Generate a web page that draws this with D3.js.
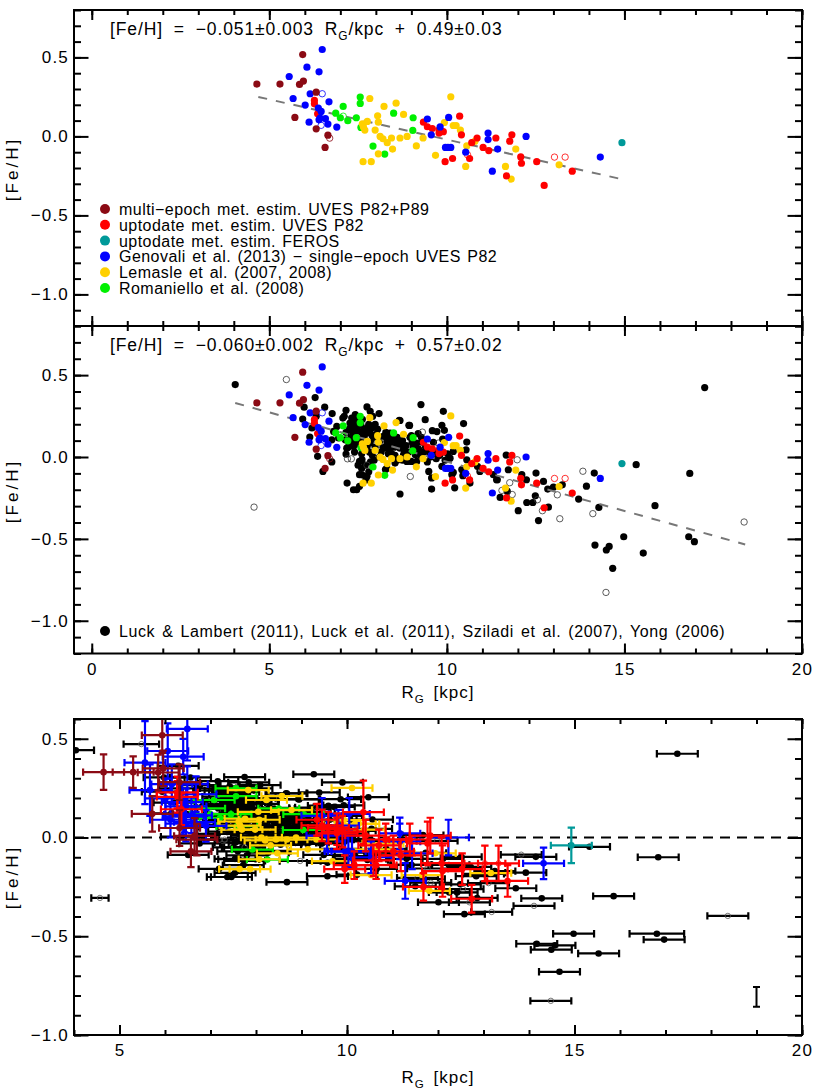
<!DOCTYPE html>
<html>
<head>
<meta charset="utf-8">
<script src="https://cdn.jsdelivr.net/npm/d3@7"></script>
<style>
html, body { margin: 0; padding: 0; background: #fff; }
text { font-family: "Liberation Sans", sans-serif; fill: #000; }
</style>
</head>
<body>
<div id="svg_div"></div>
<script>
// Points are [RG, FeH], optional third value is the
// y error (coloured samples) or the x error (black samples)
var darkRed = [[5.94,0.518,0.09],[4.65,0.331,0.09],[5.30,0.331,0.08],[5.85,0.329,0.09],[5.96,0.350,0.09],[6.32,0.280,0.09],
    [5.72,0.120,0.09],[6.32,0.048,0.09],[6.65,0.008,0.09],[6.57,-0.070,0.08]];
var darkRedOpen = [[6.70,-0.011,0.08]];

var red = [[6.27,0.228,0.08],[6.27,0.206,0.08],[6.36,0.143,0.08],[10.36,0.128,0.16],[9.34,0.09,0.08],[9.45,0.061,0.08],
    [9.59,0.05,0.08],[9.78,0.042,0.08],[9.78,0.021,0.08],[9.90,0.03,0.08],[10.41,0.01,0.08],[10.85,-0.01,0.08],
    [10.70,-0.04,0.08],[11.02,-0.07,0.08],[11.18,-0.09,0.08],[11.38,-0.01,0.08],[11.83,0.01,0.09],[11.77,-0.03,0.11],
    [12.08,-0.13,0.13],[12.10,-0.17,0.13],[12.53,-0.16,0.08],[13.53,-0.22,0.08],[12.74,-0.31,0.07],[11.68,-0.25,0.07],
    [10.64,-0.14,0.07],[10.16,-0.14,0.07],[9.95,-0.16,0.07]];
var redOpen = [[13.03,-0.131,0.09],[13.33,-0.131,0.09],[10.58,-0.116,0.08]];

var teal = [[14.93,-0.04,0.09]];

var blue = [[6.49,0.55,0.16],[6.06,0.438,0.14],[6.40,0.409,0.09],[5.56,0.379,0.21],[5.67,0.24,0.13],[6.15,0.27,0.1],
    [6.01,0.198,0.1],[6.68,0.219,0.09],[6.38,0.179,0.09],[6.46,0.158,0.09],[6.43,0.116,0.09],[6.58,0.112,0.09],
    [6.40,0.105,0.09],[6.12,0.09,0.09],[6.65,0.078,0.08],[6.90,0.059,0.08],[9.45,0.11,0.09],[9.56,0.01,0.08],
    [10.05,0.12,0.08],[9.81,0.06,0.08],[11.16,0.021,0.08],[11.16,-0.02,0.09],[11.43,-0.08,0.08],[9.96,-0.07,0.08],
    [10.03,-0.07,0.08],[10.11,-0.07,0.08],[10.53,-0.10,0.08],[11.28,-0.22,0.09],[12.23,0.0,0.09],[14.32,-0.131,0.08]];
var blueOpen = [[6.49,0.27,0.09],[6.46,0.07,0.09]];

var yellow = [[7.83,0.24],[8.23,0.19],[8.57,0.21],[8.78,0.139],[8.05,0.13],[8.07,0.09],[7.76,0.095],[7.62,0.08],[7.65,0.06],
    [7.69,0.04],[7.98,0.04],[8.12,0],[8.20,-0.015],[8.32,-0.04],[8.44,-0.01],[8.68,-0.01],[8.88,0],[9.33,-0.01],[9.14,-0.06],
    [8.47,-0.08],[8.07,-0.11],[7.64,-0.16],[7.87,-0.16],[9.68,-0.12],[10.11,0.251],[9.93,0.088],[10.18,0.069],[10.26,0.069],
    [10.38,0.04],[10.79,-0.03],[10.56,-0.06],[10.53,-0.19],[11.65,-0.19],[11.94,-0.08],[11.81,-0.27],[13.16,-0.18]];

var green = [[7.56,0.249],[7.56,0.209],[7.08,0.19],[6.87,0.147],[7.0,0.118],[7.21,0.099],[7.45,0.118],[8.50,0.147],[9.05,0.118],
    [9.04,0.038],[7.92,-0.061],[8.25,-0.112],[7.58,0.057]];
var greenOpen = [[7.08,0.128]];

var black = [[4.04,0.442,0.4],[6.29,0.363],[5.98,0.304],[6.56,0.304],[6.77,0.265],[6.32,0.249],[5.94,0.232],[6.36,0.004],[6.51,-0.088],
    [6.76,-0.03],[6.14,0.122],[6.20,0.177],[6.9,0.187],[6.81,0.156],[6.95,0.116],[6.76,0.105],[7.16,0.285],[7.11,0.249],[7.07,0.238],
    [7.42,0.259],[7.32,0.238],[7.27,0.207],[7.75,0.306],[7.84,0.279],[7.91,0.249],[8.09,0.265],[8.66,0.224],[8.93,0.194],[9.27,0.32],
    [9.39,0.228],[9.9,0.279],[10.47,0.204],[9.86,0.194],[9.93,0.163],[9.59,0.161],[9.72,0.155],[9.19,0.143],[8.96,0.12],[7.16,0.018],
    [7.61,-0.016],[7.54,-0.026],[7.54,-0.108],[7.75,-0.118],[7.19,-0.159],[7.46,-0.2],[7.54,-0.179],[7.37,-0.2],[8.68,-0.226],[9.49,-0.088],
    [9.57,-0.128],[9.57,-0.196],[10.22,-0.188],[8.27,-0.077],[8.54,-0.037],[9.15,-0.026],[8.92,-0.026],[10.14,-0.108],[9.86,-0.057],
    [10.18,-0.094],[10.42,-0.077],[10.45,-0.114],[10.65,-0.159],[11.31,-0.108],[11.4,-0.139],
    // dense part of the cloud
    [7.37,0.187],[7.45,0.187],[7.58,0.195],[7.75,0.177],[7.89,0.177],[7.37,0.146],[7.46,0.116],[7.65,0.126],[7.84,0.146],[7.28,0.085],
    [7.14,0.105],[7.18,0.054],[7.37,0.064],[7.56,0.105],[7.84,0.085],[8.21,0.126],[8.40,0.146],[8.31,0.095],[8.40,0.054],[8.26,0.054],
    [8.59,0.085],[8.68,0.054],[8.95,0.193],[8.68,0.223],[8.45,0.02],[8.31,-0.068],[8.54,0.01],[8.87,-0.027],[8.78,0.014],[9.11,0.014],
    [9.0,-0.027],[7.16,0.15],[7.3,0.12],[7.5,0.16],[7.7,0.14],[7.95,0.11],[8.1,0.09],[8.05,0.17],[8.2,0.06],[8.15,0.03],[7.4,0.03],
    [7.6,0.02],[7.75,0.06],[7.9,0.01],[7.85,-0.03],[7.7,-0.05],[7.6,-0.07],[7.8,-0.09],[7.72,-0.14],[8.35,0.12],[8.5,0.11],[8.75,0.1],
    [8.85,0.07],[9.05,0.06],[9.2,0.05],[9.3,0.09],[9.35,0.03],[9.5,0.03],[9.45,-0.03],[9.7,-0.01],[9.62,0.09],[9.17,0.045],[9.15,0.085],
    [9.13,-0.033],[9.8,0.01],[9.95,-0.02],[10.09,-0.007],[10.18,0.034],[10.54,0.044],[10.56,0.091],[10.56,-0.017],
    [7.25,0.17],[7.42,0.22],[7.5,0.24],[7.62,0.23],[7.68,0.17],[7.8,0.2],[7.98,0.2],[7.22,0.06],[7.32,0.16],[7.42,0.09],[7.52,0.08],[7.6,0.15],
    [7.72,0.1],[7.9,0.13],[7.98,0.06],[8.02,0.14],[8.1,0.0],[7.95,-0.02],[7.82,0.03],[7.5,-0.05],[7.62,-0.11],[8.28,0.15],[8.38,0.08],
    [8.45,0.1],[8.52,0.06],[8.6,0.12],[8.7,0.08],[8.8,0.04],[8.92,0.03],[9.02,0.09],[9.1,0.03],[9.25,0.01],[8.35,0.02],[8.6,-0.02],
    [8.75,-0.02],[9.0,0.13],[9.28,0.12],[9.4,0.06],[9.55,0.0],[9.65,0.03],[10.02,0.02],[9.88,0.11],
    [11.67,0.012],[11.73,-0.078],[10.86,-0.057],[10.93,-0.088],[11.42,-0.139],[12.11,-0.108],[12.24,-0.139],[12.51,-0.098],[12.72,-0.149],
    [12.84,-0.196],[13.0,-0.184],[13.25,-0.17],[11.5,-0.247],[12.49,-0.237],[12.25,-0.278],[12.42,-0.278],[12.01,-0.328],[12.86,-0.306],
    [12.58,-0.388],[13.71,-0.257],[13.93,-0.178],[14.15,-0.098],[14.28,-0.308],[11.7,-0.21],[17.26,0.424],[15.33,-0.047],[16.84,-0.10],
    [15.86,-0.297],[14.98,-0.487],[14.17,-0.538],[14.57,-0.546],[14.49,-0.568],[15.53,-0.587],[14.67,-0.68],[16.81,-0.487,0.6],[16.97,-0.517]];
var blackOpen = [[13.83,-0.087],[14.11,-0.346],[18.37,-0.397],[14.48,-0.827],[13.18,-0.377],[9.31,0.152],[9.76,0.085],[11.98,-0.017],
    [11.55,-0.204],[11.77,-0.157],[11.84,-0.229],[12.55,-0.261],[12.69,-0.328],[13.11,-0.231],[8.97,-0.119],[7.2,-0.011],[7.31,-0.011],
    [7.75,-0.05],[4.57,-0.306,0.19],[5.48,0.473,0.39]];

// Fit lines, end points
var fitTop = [[4.69,0.25],[14.93,-0.271]];
var fitAll = [[4.04,0.33],[18.4,-0.534]];

var xErrDefault = 0.45;
var sampleErr = [19.0, -0.807, 0.05];

var legendTop = ["multi\u2212epoch met. estim. UVES P82+P89", "uptodate met. estim. UVES P82", "uptodate met. estim. FEROS",
    "Genovali et al. (2013) \u2212 single\u2212epoch UVES P82", "Lemasle et al. (2007, 2008)", "Romaniello et al. (2008)"];
var legendColors = ["#8b0a14", "#ff0000", "#009999", "#0000ff", "#ffd000", "#00f000"];
var legendAll = "Luck & Lambert (2011), Luck et al. (2011), Sziladi et al. (2007), Yong (2006)";

var yMajor = [-1, -0.5, 0, 0.5];
var yMinor = d3.range(-12, 9).map(function(d) { return d / 10; });
var yMinorBottom = d3.range(-10, 7).map(function(d) { return d / 10; });

var colors = {darkRed: "#8b0a14", red: "#ff0000", teal: "#009999", blue: "#0000ff", yellow: "#ffd000", green: "#00f000", black: "#000"};

var svg = d3.select("#svg_div").append("svg").attr("width", 817).attr("height", 1090).style("display", "block");

function yFormat(d) {
    return d3.format(".1f")(d).replace("-", "\u2212");
}

// Frame plus inward ticks on the four sides
function drawFrame(g, x, y, opt) {
    var w = x.range()[1], h = y.range()[0];
    function side(gen, tx, ty, vals, size) {
        g.append("g").attr("transform", "translate(" + [tx, ty] + ")")
            .call(gen.tickValues(vals).tickSize(-size).tickFormat(""))
            .call(function(a) { a.select(".domain").remove(); a.selectAll("line").attr("stroke-width", 2); });
    }
    side(d3.axisBottom(x), 0, h, opt.xMinor, 5);
    side(d3.axisTop(x), 0, 0, opt.xMinor, 5);
    side(d3.axisBottom(x), 0, h, opt.xMajor, 10);
    side(d3.axisTop(x), 0, 0, opt.xMajor, 10);
    side(d3.axisLeft(y), 0, 0, opt.yMinor, 7);
    side(d3.axisRight(y), w, 0, opt.yMinor, 7);
    side(d3.axisLeft(y), 0, 0, opt.yMajor, 14.5);
    side(d3.axisRight(y), w, 0, opt.yMajor, 14.5);

    g.append("g")
        .call(d3.axisLeft(y).tickValues(opt.yMajor).tickSize(0).tickPadding(5).tickFormat(yFormat))
        .call(function(a) {
            a.select(".domain").remove();
            a.selectAll("text").style("font-size", "17px").style("letter-spacing", "1.2px");
        });

    if (opt.xLabels) {
        g.append("g").attr("transform", "translate(0," + h + ")")
            .call(d3.axisBottom(x).tickValues(opt.xLabels).tickSize(0).tickPadding(opt.xPad).tickFormat(d3.format("d")))
            .call(function(a) {
                a.select(".domain").remove();
                a.selectAll("text").style("font-size", "17px").style("letter-spacing", "1.2px");
            });
    }
    g.append("rect").attr("width", w).attr("height", h)
        .attr("fill", "none").attr("stroke", "#000").attr("stroke-width", 2);
}

function dots(g, x, y, pts, color, r) {
    g.append("g").selectAll("circle").data(pts).enter().append("circle")
        .attr("cx", function(d) { return x(d[0]); })
        .attr("cy", function(d) { return y(d[1]); })
        .attr("r", r)
        .attr("fill", color);
}

function rings(g, x, y, pts, color, r) {
    g.append("g").selectAll("circle").data(pts).enter().append("circle")
        .attr("cx", function(d) { return x(d[0]); })
        .attr("cy", function(d) { return y(d[1]); })
        .attr("r", r)
        .attr("fill", "none")
        .attr("stroke", color)
        .attr("stroke-width", 0.8);
}

function fitLine(g, x, y, pts) {
    var line = d3.line().x(function(d) { return x(d[0]); }).y(function(d) { return y(d[1]); });
    g.append("path").datum(pts).attr("d", line)
        .attr("fill", "none").attr("stroke", "#777").attr("stroke-width", 2).attr("stroke-dasharray", "9,9");
}

// Horizontal bar with caps, and vertical bar if hasY
function errBars(g, x, y, pts, color, hasY) {
    var cap = 3.7;
    var sel = g.append("g").attr("stroke", color).attr("stroke-width", 2.2).attr("fill", "none");
    pts.forEach(function(d) {
        var xe = hasY ? xErrDefault : (d[2] === undefined ? xErrDefault : d[2]);
        var path = d3.path();
        var x0 = x(d[0] - xe), x1 = x(d[0] + xe), py = y(d[1]), px = x(d[0]);
        path.moveTo(x0, py); path.lineTo(x1, py);
        path.moveTo(x0, py - cap); path.lineTo(x0, py + cap);
        path.moveTo(x1, py - cap); path.lineTo(x1, py + cap);
        if (hasY) {
            var y0 = y(d[1] - d[2]), y1 = y(d[1] + d[2]);
            path.moveTo(px, y0); path.lineTo(px, y1);
            path.moveTo(px - cap, y0); path.lineTo(px + cap, y0);
            path.moveTo(px - cap, y1); path.lineTo(px + cap, y1);
        }
        sel.append("path").attr("d", path.toString());
    });
}

function rgText(sel, tail) {
    sel.append("tspan").text("R");
    sel.append("tspan").attr("dy", 5).style("font-size", "0.68em").text("G");
    sel.append("tspan").attr("dy", -5).text(tail);
}

function feLabel(cy) {
    svg.append("text").attr("transform", "translate(18," + cy + ") rotate(-90)")
        .attr("text-anchor", "middle").style("font-size", "17px").style("letter-spacing", "3px").text("[Fe/H]");
}

function axisTitle(cy) {
    rgText(svg.append("text").attr("x", 438).attr("y", cy).attr("text-anchor", "middle")
        .style("font-size", "17px").style("letter-spacing", "1px").style("word-spacing", "3px"), " [kpc]");
}

function equation(g, head, tail) {
    var eq = g.append("text").attr("x", 36).attr("y", 25)
        .style("font-size", "17.5px").style("letter-spacing", "0.9px").style("word-spacing", "5px");
    eq.append("tspan").text(head);
    rgText(eq, tail);
}

// Coloured samples shared by the two scatter panels
function scatterColoured(g, x, y) {
    dots(g, x, y, green, colors.green, 3.6);
    rings(g, x, y, greenOpen, colors.green, 3.2);
    dots(g, x, y, yellow, colors.yellow, 3.6);
    dots(g, x, y, red, colors.red, 3.6);
    rings(g, x, y, redOpen, colors.red, 3.2);
    dots(g, x, y, blue, colors.blue, 3.6);
    rings(g, x, y, blueOpen, colors.blue, 3.2);
    dots(g, x, y, darkRed, colors.darkRed, 3.6);
    rings(g, x, y, darkRedOpen, colors.darkRed, 3.2);
    dots(g, x, y, teal, colors.teal, 3.6);
}

var xTop = d3.scaleLinear().domain([-0.5, 20]).range([0, 728]);
var yTop = d3.scaleLinear().domain([-1.2, 0.8]).range([316, 0]);
var yMid = d3.scaleLinear().domain([-1.2, 0.8]).range([327.5, 0]);
var xBot = d3.scaleLinear().domain([4, 20]).range([0, 728]);
var yBot = d3.scaleLinear().domain([-1.0, 0.6]).range([316, 0]);
var xMinor = d3.range(0, 21);
var xMajor = [0, 5, 10, 15, 20];

// Top panel
var g1 = svg.append("g").attr("transform", "translate(74,10)");
fitLine(g1, xTop, yTop, fitTop);
scatterColoured(g1, xTop, yTop);
drawFrame(g1, xTop, yTop, {xMinor: xMinor, xMajor: xMajor, yMinor: yMinor, yMajor: yMajor});
equation(g1, "[Fe/H] = \u22120.051\u00b10.003 ", "/kpc + 0.49\u00b10.03");

var legendY = d3.scaleLinear().domain([0, 5]).range([199, 278]);
legendTop.forEach(function(name, i) {
    g1.append("circle").attr("cx", 31).attr("cy", legendY(i)).attr("r", 5).attr("fill", legendColors[i]);
    g1.append("text").attr("x", 45).attr("y", legendY(i) + 6).style("font-size", "16px")
        .style("letter-spacing", "0.45px").style("word-spacing", "1.5px").text(name);
});
feLabel(169);

// Middle panel
var g2 = svg.append("g").attr("transform", "translate(74,326)");
dots(g2, xTop, yMid, black, colors.black, 3.6);
rings(g2, xTop, yMid, blackOpen, "#333", 3.2);
fitLine(g2, xTop, yMid, fitAll);
scatterColoured(g2, xTop, yMid);
drawFrame(g2, xTop, yMid, {xMinor: xMinor, xMajor: xMajor, yMinor: yMinor, yMajor: yMajor, xLabels: xMajor, xPad: 9});
equation(g2, "[Fe/H] = \u22120.060\u00b10.002 ", "/kpc + 0.57\u00b10.02");

g2.append("circle").attr("cx", 31).attr("cy", 305).attr("r", 5).attr("fill", "#000");
g2.append("text").attr("x", 45).attr("y", 311).style("font-size", "16px")
    .style("letter-spacing", "0.6px").style("word-spacing", "2px").text(legendAll);
feLabel(491);
axisTitle(698);

// Bottom panel, everything with error bars and clipped to the frame
var g3 = svg.append("g").attr("transform", "translate(74,719)");
svg.append("clipPath").attr("id", "clip-bot").append("rect").attr("width", 728).attr("height", 316);
var marks = g3.append("g").attr("clip-path", "url(#clip-bot)");

errBars(marks, xBot, yBot, black, colors.black, false);
errBars(marks, xBot, yBot, blackOpen, colors.black, false);
dots(marks, xBot, yBot, black, colors.black, 3.3);
rings(marks, xBot, yBot, blackOpen, "#555", 2.7);

marks.append("line").attr("x1", xBot(4)).attr("x2", xBot(20)).attr("y1", yBot(0)).attr("y2", yBot(0))
    .attr("stroke", "#000").attr("stroke-width", 1.8).attr("stroke-dasharray", "10,7");

errBars(marks, xBot, yBot, green, colors.green, false);
dots(marks, xBot, yBot, green, colors.green, 3.3);
errBars(marks, xBot, yBot, yellow, colors.yellow, false);
dots(marks, xBot, yBot, yellow, colors.yellow, 3.3);
errBars(marks, xBot, yBot, blue, colors.blue, true);
errBars(marks, xBot, yBot, blueOpen, colors.blue, true);
dots(marks, xBot, yBot, blue, colors.blue, 3.3);
errBars(marks, xBot, yBot, red, colors.red, true);
errBars(marks, xBot, yBot, redOpen, colors.red, true);
dots(marks, xBot, yBot, red, colors.red, 3.3);
rings(marks, xBot, yBot, redOpen, colors.red, 2.7);
errBars(marks, xBot, yBot, darkRed, colors.darkRed, true);
errBars(marks, xBot, yBot, darkRedOpen, colors.darkRed, true);
dots(marks, xBot, yBot, darkRed, colors.darkRed, 3.3);
errBars(marks, xBot, yBot, teal, colors.teal, true);
dots(marks, xBot, yBot, teal, colors.teal, 3.3);

// Typical error shown in the corner
var capS = 3.5;
var sg = marks.append("g").attr("stroke", "#000").attr("stroke-width", 2);
sg.append("line").attr("x1", xBot(sampleErr[0])).attr("x2", xBot(sampleErr[0]))
    .attr("y1", yBot(sampleErr[1] - sampleErr[2])).attr("y2", yBot(sampleErr[1] + sampleErr[2]));
[-1, 1].forEach(function(s) {
    sg.append("line").attr("x1", xBot(sampleErr[0]) - capS).attr("x2", xBot(sampleErr[0]) + capS)
        .attr("y1", yBot(sampleErr[1] + s * sampleErr[2])).attr("y2", yBot(sampleErr[1] + s * sampleErr[2]));
});

drawFrame(g3, xBot, yBot, {xMinor: d3.range(4, 21), xMajor: [5, 10, 15, 20], yMinor: yMinorBottom, yMajor: yMajor,
    xLabels: [5, 10, 15, 20], xPad: 9});
feLabel(877);
axisTitle(1083);
</script>
</body>
</html>
